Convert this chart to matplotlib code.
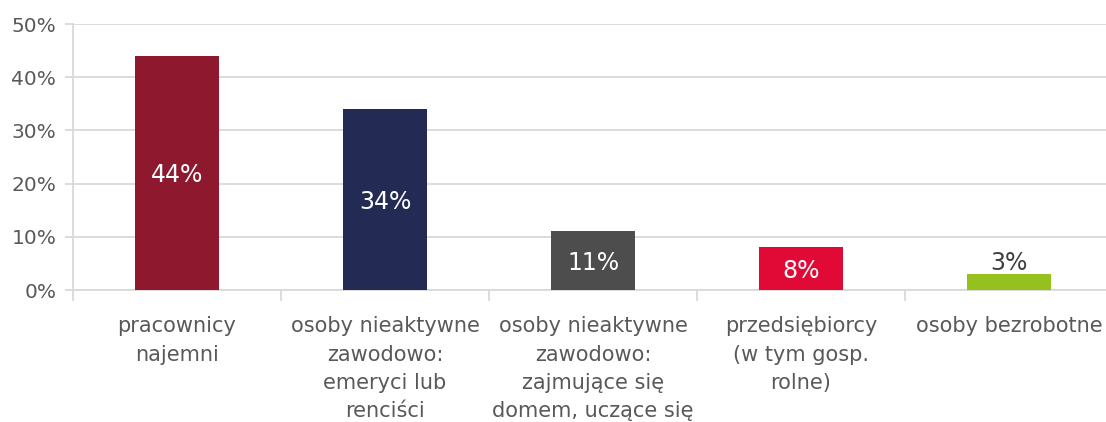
import numpy as np
import matplotlib.pyplot as plt
from matplotlib.ticker import FixedLocator

categories = ['pracownicy\nnajemni',
              'osoby nieaktywne\nzawodowo:\nemeryci lub\nrenciści',
              'osoby nieaktywne\nzawodowo:\nzajmujące się\ndomem, uczące się',
              'przedsiębiorcy\n(w tym gosp.\nrolne)',
              'osoby bezrobotne']
values = [44, 34, 11, 8, 3]
colors = ['#8E182D', '#232B55', '#4D4D4D', '#E10A36', '#95C11F']

grid_c = '#D9D9D9'
text_c = '#595959'

fig = plt.figure(figsize=(11.06, 4.22), dpi=100)
ax = fig.add_axes([73 / 1106, 132 / 422, 1040 / 1106, 266 / 422])

x = np.arange(len(values))
bars = ax.bar(x, values, width=0.4, color=colors, zorder=3)

for i, v in enumerate(values):
    if v < 5:
        ax.text(i, v + 2.1, f'{v}%', ha='center', va='center',
                fontsize=17, color='#404040', zorder=4)
    else:
        ax.text(i, v / 2 - 0.4, f'{v}%', ha='center', va='center',
                fontsize=17, color='white', zorder=4)

ax.set_xlim(-0.5, len(values) - 0.5)
ax.set_ylim(0, 50)
ax.set_yticks(range(0, 51, 10))
ax.set_yticklabels([f'{t}%' for t in range(0, 51, 10)])
ax.yaxis.grid(True, color=grid_c, linewidth=1.3, zorder=0)

ax.set_xticks(x)
ax.set_xticklabels(categories, fontsize=15, color=text_c, linespacing=1.52)
ax.xaxis.set_minor_locator(FixedLocator(np.arange(-0.5, len(values), 1.0)))
ax.tick_params(axis='x', which='major', length=0, pad=19)
ax.tick_params(axis='x', which='minor', length=8, color=grid_c, width=1.3)
ax.tick_params(axis='y', length=6, color=grid_c, width=1.3,
               labelsize=14.5, labelcolor=text_c, pad=6)

for s in ['top', 'right']:
    ax.spines[s].set_visible(False)
ax.spines['left'].set_color(grid_c)
ax.spines['left'].set_linewidth(1.3)
ax.spines['bottom'].set_color(grid_c)
ax.spines['bottom'].set_linewidth(1.3)

fig.savefig('out.png', dpi=100)
